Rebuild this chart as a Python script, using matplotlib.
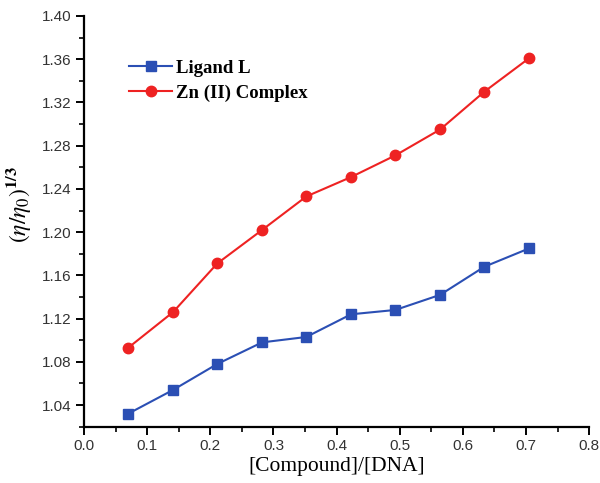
import matplotlib
matplotlib.use('Agg')
import matplotlib.pyplot as plt
from matplotlib.ticker import MultipleLocator

plt.rcParams['mathtext.fontset'] = 'stix'

# data
ratio = [0.070, 0.141, 0.211, 0.282, 0.352, 0.423, 0.493, 0.564, 0.634, 0.705]
ligand = [1.032, 1.054, 1.078, 1.098, 1.103, 1.124, 1.128, 1.142, 1.168, 1.185]
zn_complex = [1.093, 1.126, 1.171, 1.202, 1.233, 1.251, 1.271, 1.295, 1.330, 1.361]

xticks = [0.0, 0.1, 0.2, 0.3, 0.4, 0.5, 0.6, 0.7, 0.8]
xlabels = ['0.0', '0.1', '0.2', '0.3', '0.4', '0.5', '0.6', '0.7', '0.8']
yticks = [1.04, 1.08, 1.12, 1.16, 1.20, 1.24, 1.28, 1.32, 1.36, 1.40]
ylabels = ['1.04', '1.08', '1.12', '1.16', '1.20', '1.24', '1.28', '1.32',
           '1.36', '1.40']

fig = plt.figure(figsize=(6.0, 4.83), dpi=100)
ax = fig.add_axes([0.14, 0.1166, 0.842, 0.8503])

ax.plot(ratio, ligand, '-s', color='#2b4fb4', markersize=6.5, linewidth=1.5,
        label='Ligand L')
ax.plot(ratio, zn_complex, '-o', color='#ee2222', markersize=7.5, linewidth=1.5,
        label='Zn (II) Complex')

ax.set_xlim(0.0, 0.8)
ax.set_ylim(1.02, 1.40)
ax.xaxis.set_minor_locator(MultipleLocator(0.05))
ax.yaxis.set_minor_locator(MultipleLocator(0.02))
ax.set_xticks(xticks)
ax.set_xticklabels(xlabels)
ax.set_yticks(yticks)
ax.set_yticklabels(ylabels)

for side in ('top', 'right'):
    ax.spines[side].set_visible(False)
for side in ('left', 'bottom'):
    ax.spines[side].set_linewidth(1.6)

ax.tick_params(which='major', direction='out', length=6, width=1.4,
               labelsize=11, labelcolor='#333333', pad=3)
ax.tick_params(which='minor', direction='out', length=3.5, width=1.2)
for lab in ax.get_xticklabels() + ax.get_yticklabels():
    lab.set_fontfamily('Liberation Sans')

ax.set_xlabel('[Compound]/[DNA]', fontsize=15.5, family='Liberation Serif',
              labelpad=3)
ax.set_ylabel(r'$(\eta/\eta_0)^{\mathbf{1/3}}$', fontsize=17, labelpad=4)
ax.yaxis.set_label_coords(-0.1, 0.54)

leg = ax.legend(loc='upper left', bbox_to_anchor=(0.056, 0.935), frameon=False,
                handlelength=2.3, handletextpad=0.2, labelspacing=0.42,
                prop={'family': 'Liberation Serif', 'weight': 'bold', 'size': 13.5})

fig.savefig('out.png', dpi=100)
plt.close(fig)
